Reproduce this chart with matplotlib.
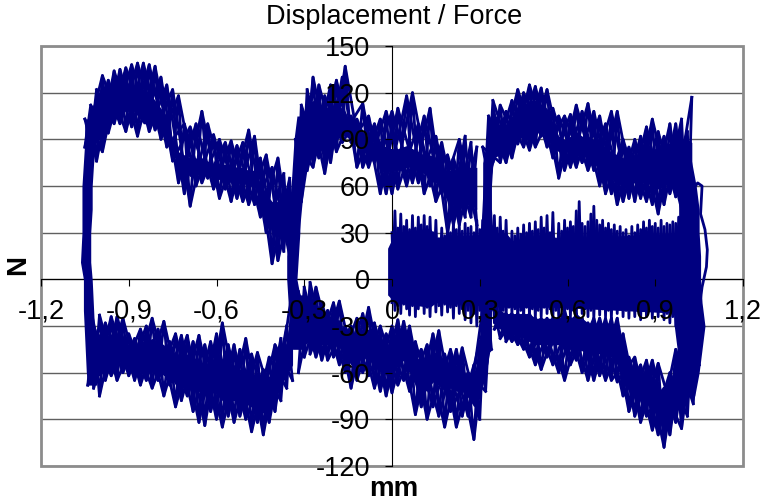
import matplotlib
matplotlib.use("Agg")
import matplotlib.pyplot as plt
from matplotlib.patches import Rectangle

plt.rcParams['font.family'] = ['Liberation Sans', 'DejaVu Sans']

x_ticks = [-1.2, -0.9, -0.6, -0.3, 0, 0.3, 0.6, 0.9, 1.2]
x_tick_labels = ["-1,2", "-0,9", "-0,6", "-0,3", "0", "0,3", "0,6", "0,9", "1,2"]
y_ticks = [-120, -90, -60, -30, 0, 30, 60, 90, 120, 150]
y_tick_labels = ["-120", "-90", "-60", "-30", "0", "30", "60", "90", "120", "150"]

# force envelopes: hi/lo = outer peaks, core = the solid part of the trace
upper_left_x = [-1.05, -1.03, -1.01, -0.99, -0.97, -0.95, -0.93, -0.91, -0.89, -0.87, -0.85, -0.83, -0.81,
                -0.79, -0.77, -0.75, -0.73, -0.71, -0.69, -0.67, -0.65, -0.63, -0.61, -0.59, -0.57, -0.55,
                -0.53, -0.51, -0.49, -0.47, -0.45, -0.43, -0.41, -0.39, -0.37, -0.35, -0.33]
upper_left_hi = [103, 112, 122, 131, 128, 134, 135, 136, 138, 139, 139, 138, 137,
                 130, 125, 122, 118, 100, 98, 100, 108, 100, 93, 90, 88, 89,
                 86, 88, 96, 92, 78, 80, 72, 78, 68, 65, 62]
upper_left_lo = [85, 88, 76, 82, 94, 100, 100, 95, 98, 92, 102, 95, 96,
                 90, 85, 76, 62, 55, 47, 60, 62, 65, 58, 52, 58, 50,
                 52, 50, 48, 48, 40, 30, 10, 12, 18, 15, 5]
upper_left_core_hi = [100, 108, 118, 122, 125, 128, 128, 127, 125, 125, 122, 120, 115,
                      110, 105, 90, 82, 80, 78, 78, 78, 76, 74, 74, 74, 74,
                      72, 72, 70, 70, 62, 55, 50, 50, 52, 55, 60]
upper_left_core_lo = [85, 90, 88, 92, 97, 103, 108, 108, 110, 105, 100, 100, 100,
                      98, 92, 85, 70, 70, 66, 68, 68, 66, 66, 64, 64, 62,
                      62, 62, 60, 60, 50, 40, 30, 30, 25, 25, 10]

upper_mid_x = [-0.33, -0.31, -0.29, -0.27, -0.25, -0.23, -0.21, -0.19, -0.17, -0.16, -0.14, -0.12, -0.10, -0.08,
               -0.06, -0.04, -0.02, 0.0, 0.02, 0.05, 0.07, 0.09, 0.11, 0.13, 0.15, 0.17, 0.19, 0.21, 0.23,
               0.25, 0.27, 0.29]
upper_mid_hi = [90, 112, 122, 130, 125, 118, 125, 128, 130, 137, 105, 103, 113, 105,
                100, 103, 108, 108, 110, 118, 120, 100, 105, 110, 92, 88, 80, 78, 90,
                92, 88, 85]
upper_mid_lo = [10, 50, 70, 72, 78, 68, 75, 82, 88, 95, 88, 72, 72, 72,
                75, 55, 55, 55, 58, 60, 62, 62, 55, 60, 50, 55, 30, 35, 35,
                40, 40, 35]
upper_mid_core_hi = [90, 105, 112, 115, 112, 110, 112, 112, 110, 108, 100, 95, 95, 90,
                     88, 88, 85, 84, 84, 86, 84, 82, 80, 80, 78, 72, 70, 70, 72,
                     72, 72, 72]
upper_mid_core_lo = [10, 55, 75, 82, 85, 80, 85, 90, 92, 92, 90, 85, 82, 80,
                     78, 72, 70, 70, 70, 72, 72, 70, 68, 65, 62, 58, 50, 48, 45,
                     48, 48, 45]

upper_right_x = [0.31, 0.33, 0.345, 0.37, 0.39, 0.41, 0.43, 0.45, 0.47, 0.49, 0.51, 0.53, 0.55, 0.57, 0.59, 0.61,
                 0.63, 0.65, 0.67, 0.69, 0.71, 0.73, 0.75, 0.77, 0.79, 0.81, 0.83, 0.85, 0.87, 0.89, 0.91,
                 0.93, 0.95, 0.97, 0.99, 1.01, 1.025]
upper_right_hi = [85, 105, 115, 112, 108, 115, 122, 120, 125, 124, 123, 122, 110, 105, 105, 106,
                  112, 108, 113, 108, 105, 100, 108, 108, 90, 85, 90, 92, 98, 103, 95,
                  92, 100, 100, 103, 95, 117]
upper_right_lo = [30, 65, 75, 75, 75, 78, 87, 85, 83, 85, 92, 85, 78, 65, 70, 72,
                  72, 75, 70, 70, 60, 55, 55, 48, 50, 52, 50, 52, 50, 48, 42,
                  48, 55, 53, 45, 20, 10]
upper_right_core_hi = [75, 95, 100, 100, 100, 105, 112, 112, 115, 115, 112, 110, 100, 92, 90, 92,
                       95, 92, 92, 90, 88, 85, 82, 80, 78, 78, 80, 82, 84, 84, 84,
                       85, 88, 90, 90, 90, 88]
upper_right_core_lo = [35, 68, 78, 80, 80, 82, 92, 90, 90, 92, 97, 92, 85, 82, 82, 82,
                       80, 80, 78, 75, 70, 65, 65, 60, 62, 62, 62, 62, 62, 60, 58,
                       60, 62, 62, 55, 30, 20]

lower_left_x = [-1.04, -1.02, -1.00, -0.98, -0.96, -0.94, -0.92, -0.90, -0.88, -0.86, -0.84, -0.82, -0.80, -0.78,
                -0.76, -0.74, -0.72, -0.70, -0.68, -0.66, -0.64, -0.62, -0.60, -0.58, -0.56, -0.54, -0.52,
                -0.50, -0.48, -0.46, -0.44, -0.42, -0.40, -0.38, -0.36, -0.34]
lower_left_hi = [-10, -30, -23, -28, -24, -24, -25, -35, -38, -32, -30, -25, -32, -27,
                 -40, -35, -36, -36, -40, -36, -42, -40, -35, -28, -42, -42, -45,
                 -38, -48, -47, -58, -50, -42, -38, -30, -5]
lower_left_lo = [-68, -70, -75, -65, -62, -65, -60, -62, -65, -68, -65, -70, -65, -75,
                 -68, -82, -78, -75, -85, -92, -94, -85, -90, -95, -88, -92, -88,
                 -90, -98, -92, -100, -92, -85, -78, -70, -65]
lower_left_core_hi = [-28, -35, -35, -38, -35, -35, -38, -42, -42, -40, -40, -38, -40, -42,
                      -48, -48, -48, -48, -50, -52, -55, -52, -50, -52, -54, -55, -58,
                      -58, -60, -62, -66, -62, -55, -48, -40, -15]
lower_left_core_lo = [-60, -62, -62, -58, -55, -55, -52, -55, -58, -60, -58, -60, -58, -62,
                      -62, -68, -68, -68, -72, -72, -75, -72, -74, -78, -78, -78, -78,
                      -80, -82, -84, -86, -82, -75, -68, -62, -55]

lower_mid_x = [-0.32, -0.30, -0.28, -0.26, -0.24, -0.22, -0.20, -0.18, -0.16, -0.14, -0.12, -0.10, -0.08, -0.06,
               -0.04, -0.02, 0.00, 0.02, 0.04, 0.06, 0.08, 0.10, 0.12, 0.14, 0.16, 0.18, 0.20, 0.22, 0.24,
               0.26, 0.28, 0.30, 0.32, 0.34]
lower_mid_hi = [-8, -5, -2, -5, -15, -20, -15, -14, -30, -30, -25, -22, -18, -28,
                -30, -35, -30, -26, -27, -30, -40, -45, -42, -35, -33, -48, -45, -45, -44,
                -60, -55, -40, -5, -5]
lower_mid_lo = [-60, -50, -48, -50, -52, -52, -50, -55, -60, -70, -65, -60, -62, -70,
                -72, -75, -73, -68, -65, -72, -87, -82, -90, -82, -88, -95, -85, -95, -88,
                -88, -103, -90, -72, -45]
lower_mid_core_hi = [-10, -10, -12, -15, -22, -26, -26, -26, -36, -36, -35, -32, -32, -36,
                     -38, -42, -40, -32, -32, -38, -50, -52, -52, -48, -45, -55, -52, -55, -55,
                     -65, -62, -50, -8, -8]
lower_mid_core_lo = [-45, -42, -40, -42, -42, -42, -42, -44, -50, -55, -52, -50, -52, -55,
                     -58, -60, -58, -56, -52, -60, -68, -70, -72, -66, -68, -72, -70, -72, -72,
                     -76, -82, -75, -62, -40]

lower_right_x = [0.35, 0.37, 0.39, 0.41, 0.43, 0.45, 0.47, 0.49, 0.51, 0.53, 0.55, 0.57, 0.59, 0.61, 0.63, 0.65,
                 0.67, 0.69, 0.71, 0.73, 0.75, 0.77, 0.79, 0.81, 0.83, 0.85, 0.87, 0.89, 0.91, 0.93, 0.95,
                 0.97, 0.99, 1.01, 1.03, 1.05]
lower_right_hi = [-20, -20, -22, -22, -22, -22, -22, -25, -25, -25, -25, -25, -20, -25, -22, -25,
                  -28, -25, -25, -25, -25, -25, -35, -50, -50, -55, -52, -52, -54, -70, -60,
                  -45, -35, -20, -15, -10]
lower_right_lo = [-32, -38, -40, -40, -42, -45, -50, -55, -58, -50, -55, -60, -65, -55, -52, -60,
                  -65, -65, -62, -65, -65, -66, -75, -85, -88, -92, -88, -97, -100, -108, -100,
                  -92, -96, -88, -80, -55]
lower_right_core_hi = [-20, -20, -22, -22, -22, -22, -22, -25, -25, -25, -25, -25, -22, -25, -22, -25,
                       -28, -28, -28, -28, -28, -30, -40, -55, -58, -60, -60, -62, -66, -75, -68,
                       -50, -40, -25, -20, -15]
lower_right_core_lo = [-30, -32, -35, -35, -36, -38, -40, -42, -42, -42, -42, -42, -45, -45, -44, -46,
                       -48, -48, -48, -48, -50, -55, -65, -72, -75, -78, -78, -82, -90, -98, -92,
                       -85, -82, -78, -70, -45]

band_x = [0.00, 0.01, 0.02, 0.03, 0.04, 0.05, 0.06, 0.07, 0.08, 0.09,
          0.10, 0.11, 0.12, 0.13, 0.14, 0.15, 0.16, 0.17, 0.18, 0.19,
          0.20, 0.21, 0.22, 0.23, 0.24, 0.25, 0.26, 0.27, 0.28, 0.29,
          0.30, 0.31, 0.32, 0.33, 0.34, 0.35, 0.36, 0.37, 0.38, 0.39,
          0.40, 0.41, 0.42, 0.43, 0.44, 0.45, 0.46, 0.47, 0.48, 0.49,
          0.50, 0.51, 0.52, 0.53, 0.54, 0.55, 0.56, 0.57, 0.58, 0.59,
          0.60, 0.61, 0.62, 0.63, 0.64, 0.65, 0.66, 0.67, 0.68, 0.69,
          0.70, 0.71, 0.72, 0.73, 0.74, 0.75, 0.76, 0.77, 0.78, 0.79,
          0.80, 0.81, 0.82, 0.83, 0.84, 0.85, 0.86, 0.87, 0.88, 0.89,
          0.90, 0.91, 0.92, 0.93, 0.94, 0.95, 0.96, 0.97, 0.98, 0.99, 1.00]
band_hi = [30, 44, 33, 42, 34, 38, 32, 41, 33, 40,
           35, 41, 34, 40, 30, 38, 26, 33, 28, 35,
           30, 36, 32, 35, 31, 36, 33, 34, 30, 38,
           32, 38, 33, 42, 34, 41, 33, 40, 31, 38,
           26, 31, 28, 33, 29, 35, 30, 36, 31, 37,
           32, 40, 33, 41, 30, 43, 26, 36, 31, 38,
           33, 37, 34, 44, 50, 36, 34, 37, 42, 47,
           38, 35, 38, 33, 36, 32, 35, 31, 34, 30,
           32, 28, 34, 30, 35, 32, 37, 33, 38, 34,
           36, 33, 38, 34, 36, 35, 37, 36, 40, 38, 36]
band_lo = [-15, -20, -17, -22, -16, -19, -23, -17, -24, -19,
           -16, -22, -18, -24, -15, -21, -17, -23, -16, -21,
           -18, -25, -17, -22, -19, -26, -20, -28, -22, -30,
           -20, -26, -18, -24, -20, -28, -22, -30, -20, -24,
           -18, -22, -19, -25, -20, -24, -18, -23, -19, -25,
           -20, -24, -18, -22, -19, -25, -20, -24, -18, -23,
           -19, -24, -20, -25, -18, -22, -19, -24, -20, -25,
           -18, -23, -19, -24, -20, -25, -18, -22, -19, -24,
           -20, -25, -18, -24, -20, -26, -19, -24, -20, -25,
           -18, -24, -20, -26, -22, -28, -24, -30, -28, -32, -30]
band_core_x = [-0.015, 0.01, 0.13, 0.15, 0.39, 0.41, 0.54, 0.56, 1.0, 1.04]
band_core_hi = [20, 30, 33, 27, 30, 25, 30, 26, 30, 30]
band_core_lo = [-10, -15, -18, -15, -18, -18, -18, -18, -22, -25]

# the steep sides of the loop: solid strips, y with left and right x
edge_left_y = [103, 90, 75, 60, 45, 30, 11, 0, -20, -40, -60, -68]
edge_left_x0 = [-1.05, -1.05, -1.055, -1.06, -1.06, -1.06, -1.065, -1.055, -1.055, -1.05, -1.045, -1.04]
edge_left_x1 = [-1.0, -1.01, -1.02, -1.025, -1.025, -1.03, -1.03, -1.025, -1.02, -1.015, -1.01, -1.01]
edge_mid_y = [-45, -30, -15, 0, 15, 30, 45, 60, 75, 90, 105]
edge_mid_x0 = [-0.34, -0.345, -0.355, -0.36, -0.36, -0.355, -0.35, -0.345, -0.34, -0.335, -0.325]
edge_mid_x1 = [-0.30, -0.30, -0.31, -0.325, -0.32, -0.315, -0.315, -0.31, -0.30, -0.285, -0.27]
edge_inner_y = [-65, -50, -35, -20, 30, 45, 60, 75, 90, 105]
edge_inner_x0 = [0.28, 0.29, 0.30, 0.30, 0.305, 0.31, 0.315, 0.315, 0.325, 0.335]
edge_inner_x1 = [0.32, 0.33, 0.335, 0.34, 0.345, 0.34, 0.34, 0.345, 0.35, 0.36]
edge_right_y = [85, 70, 60, 45, 30, 15, 0, -15, -30, -45, -60, -75]
edge_right_x0 = [0.99, 0.98, 0.98, 0.98, 0.98, 0.985, 0.99, 0.985, 0.965, 0.975, 0.985, 0.99]
edge_right_x1 = [1.015, 1.03, 1.04, 1.05, 1.05, 1.055, 1.055, 1.06, 1.07, 1.06, 1.05, 1.035]
edge_tail_x = [1.00, 1.045, 1.06, 1.055, 1.07, 1.078, 1.075, 1.06, 1.05]
edge_tail_y = [50, 62, 60, 42, 32, 19, 8, -5, -20]

navy = "#000080"
line_width = 2.0


def crossing_zigzags(ax, x, hi, lo, step=1):
    # passes going from the top of the envelope to the bottom and back, skipping points for the wider loops
    for start in range(2 * step if step > 1 else 2):
        idx = range(start % step, len(x), step)
        ys = [hi[i] if (n + start // step) % 2 == 0 else lo[i] for n, i in enumerate(idx)]
        ax.plot([x[i] for i in idx], ys, color=navy, lw=line_width, solid_joinstyle="round", zorder=2.2)


fig = plt.figure(figsize=(7.65, 5.01), dpi=100)
ax = fig.add_axes([41 / 765, (501 - 466) / 501, (743 - 41) / 765, (466 - 46) / 501])
ax.set_xlim(-1.2, 1.2)
ax.set_ylim(-120, 150)

for name in ("top", "right"):
    ax.spines[name].set_visible(False)
for name in ("left", "bottom"):
    ax.spines[name].set_position("zero")
    ax.spines[name].set_linewidth(0.8)
    ax.spines[name].set_zorder(2)

ax.hlines(y_ticks, -1.2, 1.2, color="#606060", lw=1.0, zorder=1)
ax.add_patch(Rectangle((0, 0), 1, 1, transform=ax.transAxes, fill=False, ec="#8c8c8c", lw=2.0,
                       clip_on=False, zorder=2))

for x, hi, lo, core_hi, core_lo in [
        (upper_left_x, upper_left_hi, upper_left_lo, upper_left_core_hi, upper_left_core_lo),
        (upper_mid_x, upper_mid_hi, upper_mid_lo, upper_mid_core_hi, upper_mid_core_lo),
        (upper_right_x, upper_right_hi, upper_right_lo, upper_right_core_hi, upper_right_core_lo),
        (lower_left_x, lower_left_hi, lower_left_lo, lower_left_core_hi, lower_left_core_lo),
        (lower_mid_x, lower_mid_hi, lower_mid_lo, lower_mid_core_hi, lower_mid_core_lo),
        (lower_right_x, lower_right_hi, lower_right_lo, lower_right_core_hi, lower_right_core_lo)]:
    ax.fill_between(x, core_lo, core_hi, color=navy, lw=0, zorder=2.2)
    crossing_zigzags(ax, x, hi, lo)
    crossing_zigzags(ax, x, hi, lo, step=3)

crossing_zigzags(ax, band_x, band_hi, band_lo)
ax.fill_between(band_core_x, band_core_lo, band_core_hi, color=navy, lw=0, zorder=2.2)

for y, x0, x1 in [(edge_left_y, edge_left_x0, edge_left_x1),
                  (edge_mid_y, edge_mid_x0, edge_mid_x1),
                  (edge_inner_y, edge_inner_x0, edge_inner_x1),
                  (edge_right_y, edge_right_x0, edge_right_x1)]:
    ax.fill_betweenx(y, x0, x1, color=navy, lw=0, zorder=2.2)
ax.plot(edge_tail_x, edge_tail_y, color=navy, lw=line_width, zorder=2.2)

ax.set_xticks(x_ticks)
ax.set_xticklabels(x_tick_labels, fontsize=19.5)
ax.set_yticks(y_ticks)
ax.set_yticklabels(y_tick_labels, fontsize=19.5)
ax.tick_params(axis="x", length=5, width=0.8, pad=9, direction="out")
ax.tick_params(axis="y", length=5, width=0.8, pad=11, direction="out")
ax.set_axisbelow(False)

fig.text(394 / 765, 1 - 17 / 501, "Displacement / Force", fontsize=19.5, ha="center", va="center")
fig.text(394 / 765, 1 - 489 / 501, "mm", fontsize=20, fontweight="bold", ha="center", va="center")
fig.text(18 / 765, 1 - 265 / 501, "N", fontsize=20, fontweight="bold", rotation=90, ha="center", va="center")

fig.savefig("out.png", dpi=100)
